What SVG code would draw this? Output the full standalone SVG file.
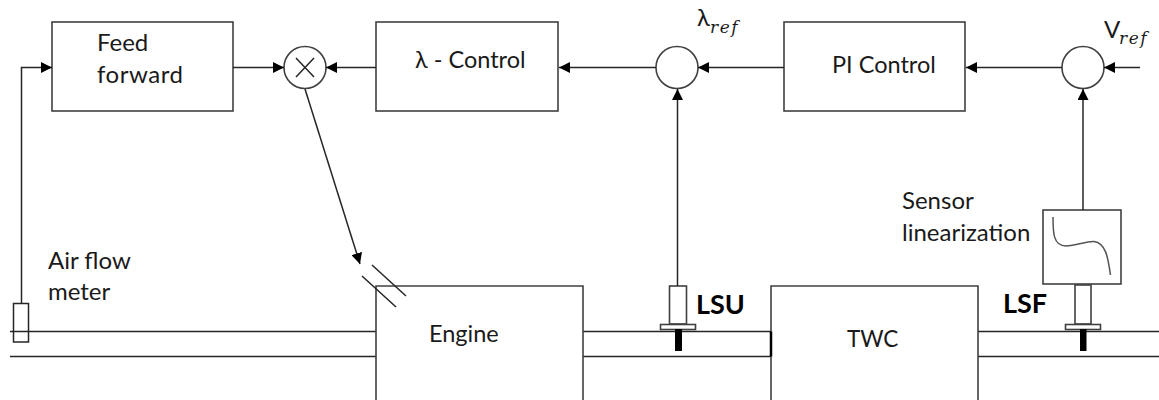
<svg xmlns="http://www.w3.org/2000/svg" width="1159" height="400" viewBox="0 0 1159 400">
<style>
.b{fill:#fff;stroke:#404040;stroke-width:1.6}
.l{fill:none;stroke:#262626;stroke-width:1.5}
.a{marker-end:url(#ah)}
text{font-family:"Lato","Carlito","Noto Sans",sans-serif;font-size:24px;fill:#1a1a1a}
.m{font-family:"DejaVu Serif","Liberation Serif",serif;font-style:italic;font-size:17px;letter-spacing:1.5px}
.s{font-weight:700;font-size:27px;fill:#000}
</style>
<defs>
<marker id="ah" viewBox="0 0 11 11" refX="11" refY="5.5" markerWidth="11" markerHeight="11" markerUnits="userSpaceOnUse" orient="auto"><path d="M0 0L11 5.500L0 11Z" fill="#000"/></marker>
</defs>
<g id="pipe">
<path class="l" d="M10 331.500H376M10 356.500H376M583 331.500H771M583 356.500H771M978 331.500H1159M978 356.500H1159"/>
</g>
<g id="feed-forward"><rect class="b" x="52" y="22" width="181" height="89"/><text x="97" y="51">Feed</text><text x="97" y="83" textLength="86">forward</text></g>
<g id="multiplier"><circle class="b" cx="305" cy="67.500" r="21"/><path class="l" d="M296 58L314 77M314 58L296 77"/></g>
<g id="lambda-control"><rect class="b" x="376" y="22" width="182" height="89"/><text x="415" y="68" font-size="23.500" style="font-size:23.500px">λ - Control</text></g>
<g id="lambda-sum"><circle class="b" cx="677" cy="67.500" r="21"/><text x="697" y="26">λ</text><text class="m" x="710" y="33">ref</text></g>
<g id="pi-control"><rect class="b" x="784" y="22" width="181" height="89"/><text x="832" y="73" style="font-size:23.500px">PI Control</text></g>
<g id="v-sum"><circle class="b" cx="1083" cy="67.500" r="21"/><text x="1104" y="38">V</text><text class="m" x="1119" y="44">ref</text></g>
<g id="engine"><path class="b" d="M376 400V286H583V400"/><text x="429" y="342" style="font-size:23.500px">Engine</text></g>
<g id="injector"><path class="l" d="M362 276L396 307M372 265L406 296"/></g>
<g id="twc"><path class="b" d="M771 400V286H978V400"/><path d="M771 331.500V356.500" fill="none" stroke="#000" stroke-width="2.500"/><text x="847" y="347" style="font-size:22.500px">TWC</text></g>
<g id="air-flow-meter"><rect x="13.500" y="303.500" width="15" height="38.500" fill="none" stroke="#262626" stroke-width="1.500"/><text x="48" y="269">Air flow</text><text x="48" y="300">meter</text></g>
<g id="lsu"><rect class="b" x="669.500" y="286" width="17" height="38"/><rect class="b" x="660.500" y="324.500" width="35" height="5"/><rect x="675" y="329" width="7" height="22" fill="#000"/><text class="s" x="696" y="314">LSU</text></g>
<g id="sensor-linearization"><rect class="b" x="1043" y="210" width="78" height="74"/><path class="l" d="M1053 217C1053 232 1053 246 1066 246C1076 246 1086 241 1094 241.500C1106 243 1108 258 1110.500 275" style="stroke:#555"/><text x="902" y="209">Sensor</text><text x="902" y="241">linearization</text></g>
<g id="lsf"><rect class="b" x="1075" y="285" width="16" height="39"/><rect class="b" x="1065.500" y="324.500" width="35" height="5"/><rect x="1080" y="329" width="6.500" height="22" fill="#000"/><text class="s" x="1003" y="313">LSF</text></g>
<g id="connectors">
<path class="l a" d="M21.500 304V67.500H52"/>
<path class="l a" d="M233 67.500H284"/>
<path class="l a" d="M376 67.500H326"/>
<path class="l a" d="M305 89L360 264"/>
<path class="l a" d="M656 67.500H559"/>
<path class="l a" d="M784 67.500H698"/>
<path class="l a" d="M1062 67.500H966"/>
<path class="l a" d="M1140 67.500H1104"/>
<path class="l a" d="M677.500 286V89"/>
<path class="l a" d="M1083 210V89"/>
</g>
</svg>
